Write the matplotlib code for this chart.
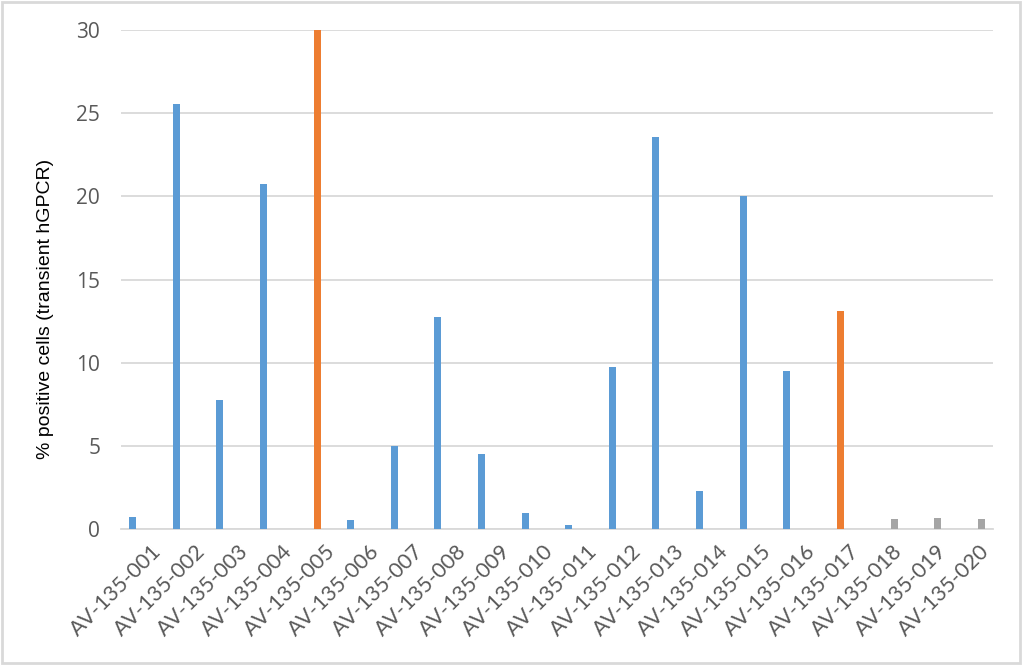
import matplotlib
matplotlib.use("Agg")
import matplotlib.pyplot as plt
import numpy as np
from matplotlib.patches import Rectangle
from matplotlib.transforms import ScaledTranslation

categories = [f"AV-135-{i:03d}" for i in range(1, 21)]
blue_vals = [0.72, 25.56, 7.74, 20.76, 0, 0.54, 4.98, 12.72, 4.5, 0.96,
             0.24, 9.72, 23.58, 2.28, 20.04, 9.48, 0, 0, 0, 0]
orange_vals = [0, 0, 0, 0, 30.0, 0, 0, 0, 0, 0,
               0, 0, 0, 0, 0, 0, 13.08, 0, 0, 0]
gray_vals = [0, 0, 0, 0, 0, 0, 0, 0, 0, 0,
             0, 0, 0, 0, 0, 0, 0, 0.62, 0.64, 0.58]
yticks = [0, 5, 10, 15, 20, 25, 30]

fig = plt.figure(figsize=(10.24, 6.65), dpi=100)
ax = fig.add_axes([121/1024, 1-529/665, (993-121)/1024, (529-30)/665])

x = np.arange(len(categories))
w = 0.16
off = 0.23
ax.bar(x - off, blue_vals, width=w, color="#5B9BD5", zorder=3)
ax.bar(x, orange_vals, width=w, color="#ED7D31", zorder=3)
ax.bar(x + off, gray_vals, width=w, color="#A5A5A5", zorder=3)

ax.set_xlim(-0.5, len(categories) - 0.5)
ax.set_ylim(0, 30)
ax.set_yticks(yticks)
ax.yaxis.grid(True, color="#D9D9D9", linewidth=1.3, zorder=0)
for s in ["top", "right", "left"]:
    ax.spines[s].set_visible(False)
ax.spines["bottom"].set_color("#D9D9D9")
ax.spines["bottom"].set_linewidth(1.3)
ax.tick_params(axis="both", length=0, colors="#595959")
ax.tick_params(axis="y", pad=15)
for lab in ax.get_yticklabels():
    lab.set_fontfamily("Open Sans")
    lab.set_fontsize(15)
ax.set_xticks(x)
ax.set_xticklabels(categories, rotation=45, ha="right", rotation_mode="anchor",
                   fontfamily="Lato", fontsize=15.5)
ax.tick_params(axis="x", pad=9)
shift = ScaledTranslation(6/72, 0, fig.dpi_scale_trans)
for lab in ax.get_xticklabels():
    lab.set_transform(lab.get_transform() + shift)
ax.set_ylabel("% positive cells (transient hGPCR)", fontsize=14, color="black",
              fontfamily="Liberation Sans", ha="center", va="center")
ax.yaxis.set_label_coords((46-121)/872, (529-309)/499)

fig.patches.append(Rectangle((0.002, 0.003), 0.994, 0.994, transform=fig.transFigure,
                             fill=False, edgecolor="#D9D9D9", linewidth=2))

fig.savefig("out.png", dpi=100)
